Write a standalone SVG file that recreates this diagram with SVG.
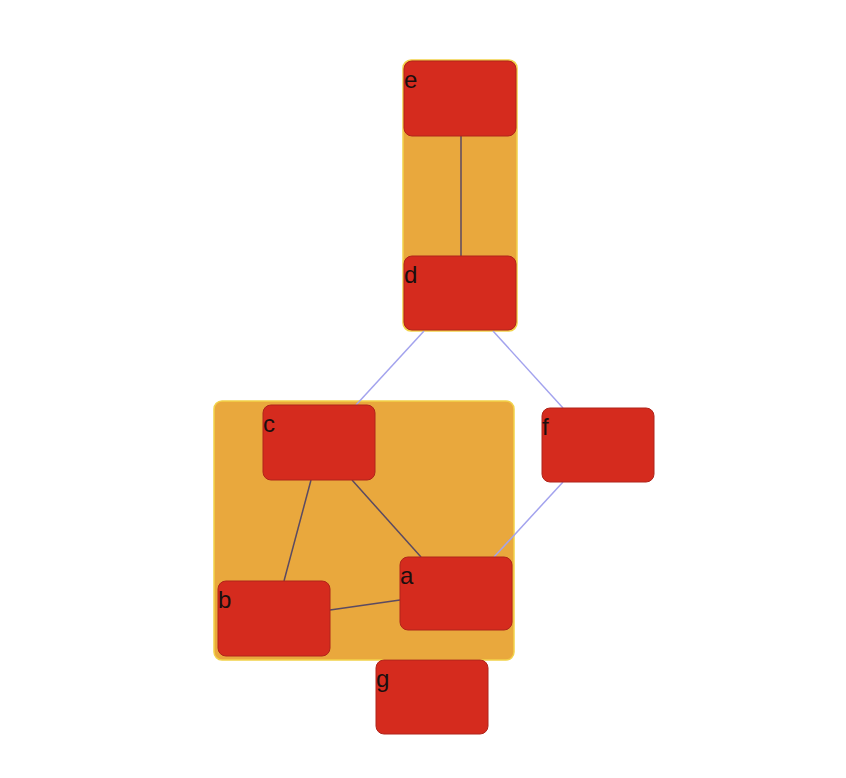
<svg xmlns="http://www.w3.org/2000/svg" width="846" height="778" viewBox="0 0 846 778">
<style>
.group{fill:#E9A83D;stroke:#F2D24A;stroke-width:1.5}
.node rect{fill:#D52B1E;stroke:#B0241A;stroke-width:1}
.node text{font-family:"Liberation Sans",Arial,sans-serif;font-size:24px;fill:#1a0f0f}
.in{stroke:#5b4a62;stroke-width:1.5}
.out{stroke:#a3a3ee;stroke-width:1.5}
</style>
<rect width="846" height="778" fill="#fff"/>
<g id="groups">
<rect id="group1" class="group" x="403" y="60" width="114" height="271" rx="8"/>
<rect id="group2" class="group" x="214" y="401" width="300" height="259" rx="8"/>
</g>
<g id="connectors">
<line class="in" x1="461" y1="136" x2="461" y2="256"/>
<line class="out" x1="424" y1="331" x2="356" y2="405"/>
<line class="out" x1="493" y1="331" x2="563" y2="408"/>
<line class="out" x1="563" y1="482" x2="494" y2="557"/>
<line class="in" x1="311" y1="480" x2="284" y2="581"/>
<line class="in" x1="352" y1="480" x2="421" y2="557"/>
<line class="in" x1="330" y1="610" x2="400" y2="600"/>
</g>
<g id="e" class="node"><rect x="404" y="61" width="112" height="75" rx="8"/><text x="404" y="88">e</text></g>
<g id="d" class="node"><rect x="404" y="256" width="112" height="74" rx="8"/><text x="404" y="283">d</text></g>
<g id="c" class="node"><rect x="263" y="405" width="112" height="75" rx="8"/><text x="263" y="432">c</text></g>
<g id="f" class="node"><rect x="542" y="408" width="112" height="74" rx="8"/><text x="542" y="435">f</text></g>
<g id="a" class="node"><rect x="400" y="557" width="112" height="73" rx="8"/><text x="400" y="584">a</text></g>
<g id="b" class="node"><rect x="218" y="581" width="112" height="75" rx="8"/><text x="218" y="608">b</text></g>
<g id="g" class="node"><rect x="376" y="660" width="112" height="74" rx="8"/><text x="376" y="687">g</text></g>
</svg>
